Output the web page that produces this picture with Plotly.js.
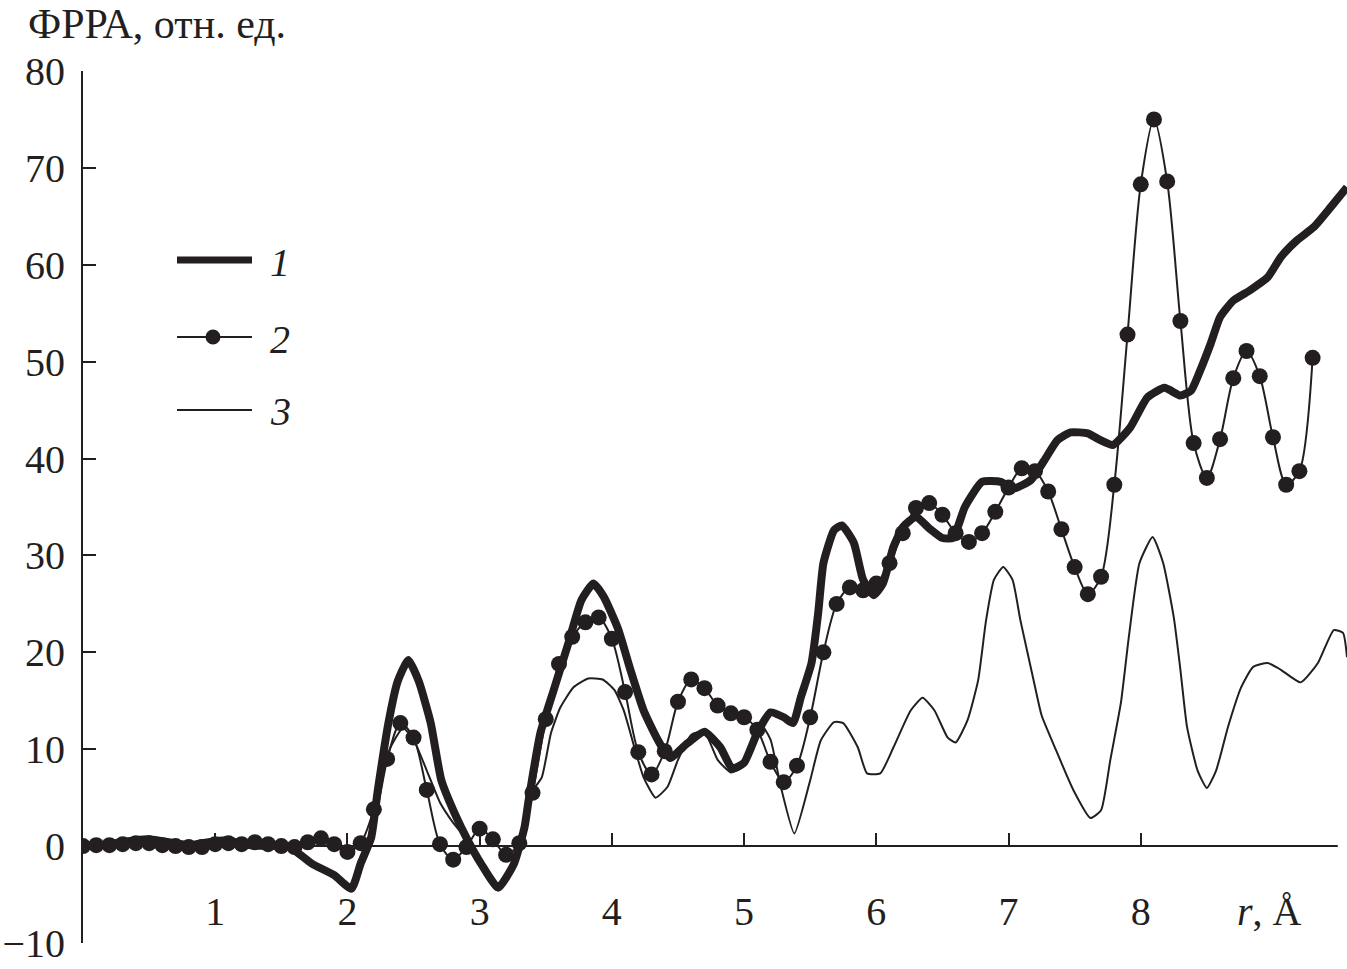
<!DOCTYPE html>
<html>
<head>
<meta charset="utf-8">
<script src="https://cdn.plot.ly/plotly-3.0.1.min.js"></script>
<style>html,body{margin:0;padding:0;background:#fff;}#chart{width:1347px;height:969px;}</style>
</head>
<body>
<div id="chart"></div>
<script>
// Series 1 (thick line)
const r1 = [0.0,0.2,0.4,0.5,0.6,0.8,1.0,1.1,1.2,1.4,1.55,1.73,1.9,2.03,2.1,2.18,2.23,2.31,2.38,2.46,2.54,2.63,2.71,2.81,2.91,3.01,3.14,3.26,3.34,3.37,3.46,3.56,3.67,3.77,3.86,3.94,4.05,4.14,4.24,4.35,4.44,4.57,4.7,4.82,4.91,5.0,5.1,5.2,5.3,5.37,5.43,5.51,5.56,5.6,5.68,5.74,5.83,5.9,5.98,6.05,6.13,6.2,6.3,6.4,6.5,6.58,6.67,6.8,6.94,7.04,7.17,7.27,7.37,7.47,7.6,7.68,7.79,7.92,8.05,8.18,8.3,8.38,8.45,8.53,8.6,8.7,8.83,8.96,9.06,9.18,9.31,9.44,9.56];
const g1 = [0,0.2,0.6,0.7,0.5,0.1,0.5,0.6,0.2,0,0,-1.8,-3.0,-4.4,-1.8,0.9,5.8,12.7,17.0,19.2,17.0,12.7,6.8,3.4,0.6,-1.8,-4.3,-1.8,2.0,4.7,11.7,16.1,20.9,25.4,27.1,25.7,22.3,18.2,14.0,10.9,9.1,10.6,11.8,10.2,8.0,8.6,11.7,13.8,13.3,12.7,15.4,18.9,24.0,29.2,32.6,33.1,31.3,27.5,25.9,27.1,30.9,32.9,34.0,32.8,31.8,31.8,35.0,37.6,37.6,36.9,37.8,39.8,41.9,42.7,42.6,42.0,41.4,43.2,46.3,47.3,46.5,47.0,49.1,51.9,54.6,56.3,57.4,58.7,60.8,62.5,63.9,66.0,68.0];

// Series 2 (line with dots)
const r2 = [0.0,0.1,0.2,0.3,0.4,0.5,0.6,0.7,0.8,0.9,1.0,1.1,1.2,1.3,1.4,1.5,1.6,1.7,1.8,1.9,2.0,2.1,2.2,2.3,2.4,2.5,2.6,2.7,2.8,2.9,3.0,3.1,3.2,3.3,3.4,3.5,3.6,3.7,3.8,3.9,4.0,4.1,4.2,4.3,4.4,4.5,4.6,4.7,4.8,4.9,5.0,5.1,5.2,5.3,5.4,5.5,5.6,5.7,5.8,5.9,6.0,6.1,6.2,6.3,6.4,6.5,6.6,6.7,6.8,6.9,7.0,7.1,7.2,7.3,7.4,7.5,7.6,7.7,7.8,7.9,8.0,8.1,8.2,8.3,8.4,8.5,8.6,8.7,8.8,8.9,9.0,9.1,9.2,9.3];
const g2 = [0,0.1,0.1,0.2,0.3,0.3,0.1,0,-0.1,-0.1,0.2,0.3,0.2,0.4,0.2,0,-0.1,0.4,0.8,0.2,-0.6,0.3,3.8,9.0,12.7,11.2,5.8,0.2,-1.4,-0.1,1.8,0.7,-0.9,0.3,5.5,13.1,18.8,21.6,23.1,23.6,21.4,15.9,9.7,7.4,9.8,14.9,17.2,16.3,14.5,13.7,13.3,12.0,8.7,6.6,8.3,13.3,20.0,25.0,26.7,26.4,27.1,29.2,32.3,34.9,35.4,34.2,32.3,31.4,32.3,34.5,37.0,39.0,38.7,36.6,32.7,28.8,26.0,27.8,37.3,52.8,68.3,75.0,68.6,54.2,41.6,38.0,42.0,48.3,51.1,48.5,42.2,37.3,38.7,50.4];

// Series 3 (thin line)
const r3 = [0.0,0.5,1.0,1.5,1.73,1.9,2.03,2.1,2.18,2.25,2.32,2.42,2.5,2.6,2.7,2.8,2.92,3.01,3.12,3.24,3.32,3.39,3.47,3.54,3.61,3.71,3.82,3.93,4.02,4.09,4.17,4.24,4.33,4.42,4.5,4.6,4.7,4.8,4.9,4.97,5.05,5.13,5.2,5.28,5.38,5.5,5.58,5.68,5.75,5.86,5.93,6.03,6.13,6.26,6.35,6.44,6.54,6.6,6.69,6.77,6.83,6.89,6.96,7.03,7.09,7.19,7.25,7.35,7.49,7.62,7.7,7.77,7.85,7.91,7.99,8.09,8.17,8.25,8.3,8.35,8.43,8.5,8.57,8.66,8.76,8.85,8.96,9.06,9.21,9.34,9.46,9.53,9.56];
const g3 = [0,0.3,0.3,0,-1.8,-3.0,-4.4,-2.0,0.5,5.5,10.0,12.2,11.0,7.8,4.5,2.4,0.4,-1.9,-4.5,-2.0,1.5,5.5,7.1,11.7,14.3,16.4,17.3,17.2,16.1,14.0,10.2,7.1,5.0,6.1,8.9,11.5,11.8,8.9,7.6,8.0,10.5,12.5,11.0,6.0,1.3,6.8,10.9,12.8,12.7,10.2,7.5,7.5,10.2,14.0,15.3,14.0,11.2,10.7,13.0,17.1,23.3,27.5,28.8,27.5,23.3,17.1,13.5,10.2,5.8,2.9,3.7,8.9,14.8,21.6,29.2,31.9,29.2,23.6,18.2,12.3,7.8,6.0,7.8,12.3,16.4,18.5,18.9,18.2,16.9,18.9,22.3,22.0,19.5];

const xTicks = [1,2,3,4,5,6,7,8];
const xTickText = ['1','2','3','4','5','6','7','8'];
const yTicks = [-10,0,10,20,30,40,50,60,70,80];
const legendNames = ['1','2','3'];
const yTitle = 'ФРРА, отн. ед.';
const xTitle = '<i>r</i>, Å';

const INK = '#231f20';
const FONT = 'Liberation Serif, Times New Roman, serif';

// plot-area geometry (pixels) for positioning decorations
const W = 1347, H = 969, ML = 83, MR = 0, MT = 71, MB = 26;
const PW = W - ML - MR, PH = H - MT - MB;
const px = p => (p - ML) / PW;
const py = p => (H - MB - p) / PH;

const traces = [
  {x: r3, y: g3, mode: 'lines', line: {color: INK, width: 2, shape: 'spline', smoothing: 0.5}, hoverinfo: 'skip'},
  {x: r1, y: g1, mode: 'lines', line: {color: INK, width: 8, shape: 'spline', smoothing: 0.5}, hoverinfo: 'skip'},
  {x: r2, y: g2, mode: 'lines+markers', line: {color: INK, width: 2, shape: 'spline', smoothing: 0.8},
   marker: {color: INK, size: 16}, hoverinfo: 'skip'}
];

const legY = [260, 337, 410];
const shapes = [
  // x axis line at y = 0
  {type: 'line', xref: 'x', yref: 'y', x0: 0, x1: 9.49, y0: 0, y1: 0, line: {color: INK, width: 2}},
  // legend swatches
  {type: 'line', xref: 'paper', yref: 'paper', x0: px(177), x1: px(252), y0: py(legY[0]), y1: py(legY[0]), line: {color: INK, width: 7}},
  {type: 'line', xref: 'paper', yref: 'paper', x0: px(177), x1: px(252), y0: py(legY[1]), y1: py(legY[1]), line: {color: INK, width: 2}},
  {type: 'circle', xref: 'paper', yref: 'paper', xsizemode: 'pixel', ysizemode: 'pixel',
   xanchor: px(213), yanchor: py(legY[1]), x0: -7.5, x1: 7.5, y0: -7.5, y1: 7.5,
   fillcolor: INK, line: {color: INK, width: 0}},
  {type: 'line', xref: 'paper', yref: 'paper', x0: px(177), x1: px(252), y0: py(legY[2]), y1: py(legY[2]), line: {color: INK, width: 2}}
];

const annotations = [
  {text: yTitle, xref: 'paper', yref: 'paper', x: px(26), y: py(24), xanchor: 'left', yanchor: 'middle',
   showarrow: false, font: {family: FONT, size: 42, color: INK}},
  {text: xTitle, xref: 'paper', yref: 'paper', x: px(1235), y: py(911), xanchor: 'left', yanchor: 'middle',
   showarrow: false, font: {family: FONT, size: 40, color: INK}}
];
legendNames.forEach((n, i) => {
  annotations.push({text: '<i>' + n + '</i>', xref: 'paper', yref: 'paper', x: px(268), y: py(legY[i] + 2),
    xanchor: 'left', yanchor: 'middle', showarrow: false, font: {family: FONT, size: 40, color: INK}});
});

const layout = {
  width: W, height: H,
  margin: {l: ML, r: MR, t: MT, b: MB, pad: 0},
  paper_bgcolor: '#fff', plot_bgcolor: '#fff',
  showlegend: false,
  font: {family: FONT, size: 40, color: INK},
  xaxis: {
    range: [0, 9.56], anchor: 'free', position: 10 / 90,
    tickmode: 'array', tickvals: xTicks, ticktext: xTickText,
    ticks: 'inside', ticklen: 13, tickwidth: 2, tickcolor: INK,
    showline: false, showgrid: false, zeroline: false,
    tickfont: {family: FONT, size: 40, color: INK},
    ticklabelstandoff: 38
  },
  yaxis: {
    range: [-10, 80],
    tickmode: 'array', tickvals: yTicks,
    ticks: 'inside', ticklen: 13, tickwidth: 2, tickcolor: INK,
    showline: true, linewidth: 2, linecolor: INK,
    showgrid: false, zeroline: false,
    tickfont: {family: FONT, size: 40, color: INK},
    ticklabelstandoff: 8
  },
  shapes: shapes,
  annotations: annotations
};

Plotly.newPlot('chart', traces, layout, {staticPlot: true, displayModeBar: false});
</script>
</body>
</html>
